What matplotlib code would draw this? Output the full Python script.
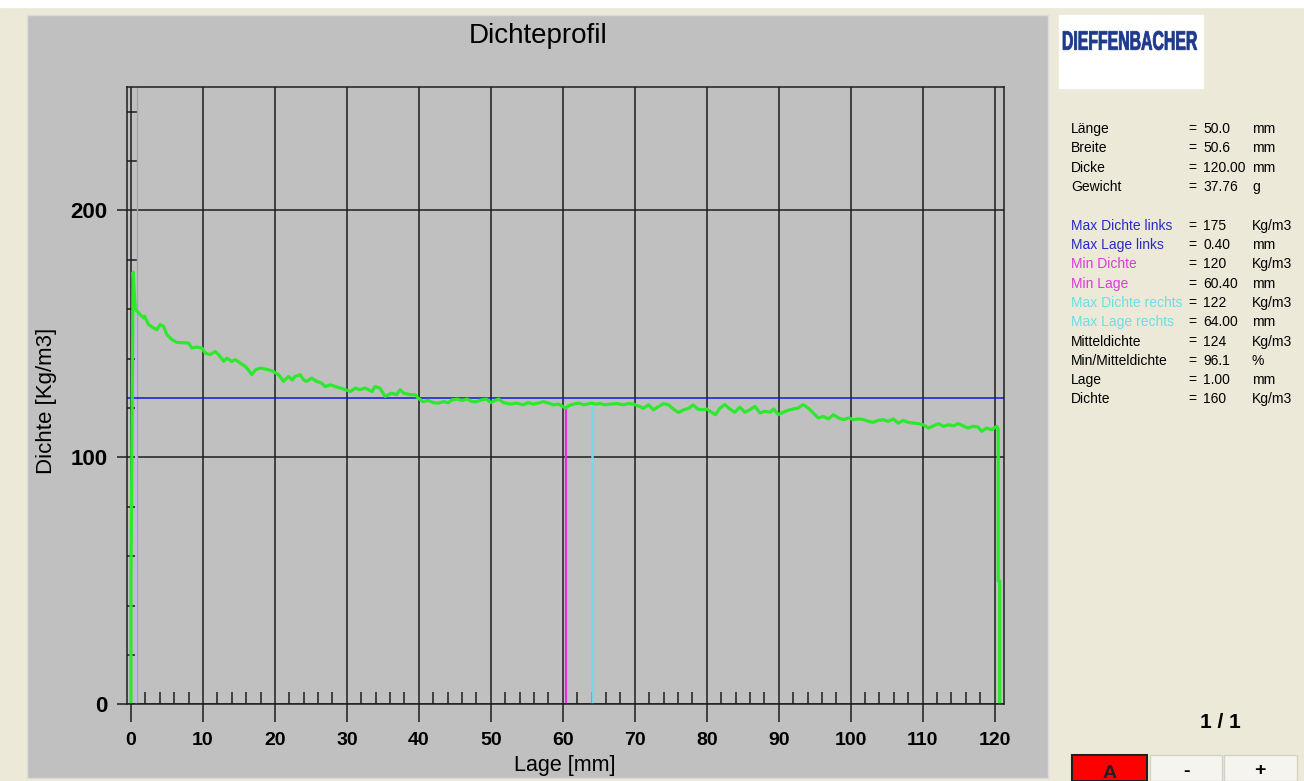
import numpy as np
import matplotlib
matplotlib.use('Agg')
import matplotlib.pyplot as plt
from matplotlib.ticker import MultipleLocator, FixedLocator
from matplotlib.patches import Rectangle, PathPatch
from matplotlib.textpath import TextPath
from matplotlib.font_manager import FontProperties
from matplotlib.transforms import Affine2D

plt.rcParams['font.family'] = ['Liberation Sans', 'DejaVu Sans']

# density profile (Lage in mm, Dichte in kg/m3)
lage = [0.0, 0.0, 0.3, 0.6, 1.06, 1.75, 1.9, 2.45, 3.14, 3.6, 4.07, 4.53, 5.0, 5.69,
        6.38, 8.0, 8.47, 9.16, 9.86, 10.32, 11.0, 11.7, 12.17, 12.9, 13.3, 14.0,
        14.5, 15.2, 15.9, 16.3, 16.8, 17.3, 18.0, 19.1, 19.8, 20.5, 21.2, 21.9,
        22.4, 22.8, 23.5, 24.0, 24.4, 25.1, 25.8, 26.5, 26.98, 27.7, 28.4, 29.1,
        29.8, 30.5, 31.2, 31.8, 32.5, 33.5, 33.9, 34.6, 35.3, 35.8, 36.2, 36.9,
        37.4, 37.9, 38.8, 39.5, 39.9,
        40.6, 41.3, 42.0, 42.7, 43.4, 44.1, 44.6, 45.3, 46.0, 46.7, 47.4, 48.0,
        48.7, 49.4, 50.0, 50.6, 51.1, 51.75, 52.7, 53.6, 54.5, 55.2, 55.9, 56.6,
        57.3, 58.0, 58.7, 59.4, 60.4, 60.8, 61.5, 62.2, 62.9, 64.0, 64.5, 65.2,
        65.9, 66.6, 67.5, 68.4, 69.1, 69.8, 70.7, 71.2, 71.9, 72.6, 73.3, 74.0,
        74.7, 75.4, 76.1, 76.8, 77.5, 78.1, 78.8, 79.5,
        80.0, 81.2, 81.85, 82.5, 83.2, 83.9, 84.6, 85.3, 86.0, 86.7, 87.4, 88.1,
        88.8, 89.3, 89.95, 90.6, 91.3, 92.0, 92.7, 93.4, 94.1, 94.8, 95.5, 96.2,
        96.9, 97.6, 98.3, 99.0, 99.7, 100.4, 101.1, 101.8, 102.5, 103.1, 103.8,
        104.5, 105.2, 105.9, 106.6, 107.3, 108.0, 108.7, 109.4, 110.1, 110.8,
        111.5, 112.2, 112.9, 113.6, 114.3, 114.95, 115.6, 116.3, 117.0, 117.7,
        118.2, 118.9, 119.6, 120.3, 120.5, 120.5, 120.7, 120.7]
dichte = [0, 50, 175, 160, 158.5, 156.5, 157.2, 153.8, 152.4, 151.7, 153.8, 153.1,
          149.7, 147.7, 146.6, 146.3, 144.3, 144.7, 144.3, 142.3, 141.6, 142.9,
          141.6, 138.9, 140.2, 138.9, 139.6, 138.2, 136.8, 135.5, 133.5, 135.5,
          136.2, 135.5, 134.8, 133.5, 130.8, 132.8, 131.4, 132.8, 133.5, 131.4,
          130.8, 132.1, 130.8, 130.1, 128.7, 129.4, 128.7, 128.1, 127.4, 126.7,
          128.1, 127.4, 128.1, 126.7, 128.7, 128.1, 124.7, 125.4, 126.0, 125.4,
          127.4, 126.0, 125.4, 125.4, 124.0,
          122.6, 123.1, 122.2, 122.0, 122.6, 122.2, 123.3, 123.6, 123.1, 123.6,
          122.6, 122.6, 123.3, 123.6, 122.2, 123.1, 123.6, 122.2, 121.6, 122.0,
          121.3, 122.2, 121.6, 122.0, 122.6, 122.0, 121.3, 121.6, 120.0, 120.9,
          121.6, 122.0, 121.3, 122.0, 121.6, 121.8, 121.3, 121.6, 121.8, 121.3,
          121.8, 121.6, 120.6, 119.9, 121.3, 119.3, 120.6, 121.8, 121.3, 119.5,
          118.2, 119.3, 119.9, 121.3, 119.5, 119.3,
          119.6, 117.3, 120.0, 121.4, 119.6, 118.3, 120.4, 118.3, 119.3, 120.7,
          118.0, 118.7, 118.3, 119.6, 117.3, 118.3, 119.1, 119.6, 120.0, 121.4,
          120.0, 118.0, 116.0, 116.6, 115.6, 117.3, 116.0, 115.3, 116.0, 115.3,
          115.6, 115.3, 114.6, 114.2, 115.0, 115.3, 114.6, 115.6, 113.9, 115.0,
          114.2, 113.9, 113.7, 113.2, 111.9, 112.8, 113.7, 112.6, 113.2, 112.8,
          113.7, 112.8, 111.9, 112.6, 112.3, 110.6, 111.9, 111.2, 112.6, 111.2,
          50, 50, 0]

mitteldichte = 124
min_lage, min_dichte = 60.4, 120
max_re_lage, max_re_dichte = 64.0, 122
cursor_lage, cursor_dichte = 0.7, 160

info_rows = [
    ('Länge', '50.0', 'mm', 'black'),
    ('Breite', '50.6', 'mm', 'black'),
    ('Dicke', '120.00', 'mm', 'black'),
    ('Gewicht', '37.76', 'g', 'black'),
    None,
    ('Max Dichte links', '175', 'Kg/m3', '#2a2ac0'),
    ('Max Lage links', '0.40', 'mm', '#2a2ac0'),
    ('Min Dichte', '120', 'Kg/m3', '#dc3adc'),
    ('Min Lage', '60.40', 'mm', '#dc3adc'),
    ('Max Dichte rechts', '122', 'Kg/m3', '#6edde6'),
    ('Max Lage rechts', '64.00', 'mm', '#6edde6'),
    ('Mitteldichte', '124', 'Kg/m3', 'black'),
    ('Min/Mitteldichte', '96.1', '%', 'black'),
    ('Lage', '1.00', 'mm', 'black'),
    ('Dichte', '160', 'Kg/m3', 'black'),
]

W, H = 1304, 781
fig = plt.figure(figsize=(W / 100, H / 100), dpi=100, facecolor='#ECE9D8')


def fx(px):
    return px / W


def fy(py):
    return 1 - py / H


# background panels
fig.add_artist(Rectangle((0, fy(7)), 1, 7 / H, transform=fig.transFigure,
                         color='white', zorder=-2))
fig.add_artist(Rectangle((fx(27), fy(778)), 1021 / W, 763 / H, transform=fig.transFigure,
                         facecolor='#C0C0C0', edgecolor='#dcdcdc', lw=1, zorder=-1))

ax = fig.add_axes([fx(127), fy(704.4), (1004 - 127) / W, (704.4 - 87) / H])
ax.set_facecolor('#C0C0C0')
ax.set_xlim(-0.55, 121.3)
ax.set_ylim(0, 250)

ax.xaxis.set_major_locator(MultipleLocator(10))
ax.xaxis.set_minor_locator(MultipleLocator(2))
ax.yaxis.set_major_locator(FixedLocator([0, 100, 200]))
ax.yaxis.set_minor_locator(MultipleLocator(20))
ax.grid(True, which='major', color='#1e1e1e', lw=1.1)
ax.set_axisbelow(True)
for s in ax.spines.values():
    s.set_color('#1e1e1e')
    s.set_linewidth(1.1)

ax.tick_params(axis='x', which='major', direction='out', length=13, width=1.1,
               color='#1e1e1e', pad=7, labelsize=14)
ax.tick_params(axis='x', which='minor', direction='in', length=8.5, width=1.1,
               color='#1e1e1e')
ax.tick_params(axis='y', which='major', direction='out', length=7, width=1.1,
               color='#1e1e1e', pad=7, labelsize=16)
ax.tick_params(axis='y', which='minor', direction='in', length=7, width=1.1,
               color='#1e1e1e')
plt.setp(ax.get_xticklabels(), fontweight='bold')
plt.setp(ax.get_yticklabels(), fontweight='bold')

# cursor lines
ax.axvline(0.9, color='#a4a4a4', lw=1)
ax.plot([cursor_lage, cursor_lage], [0, cursor_dichte], color='#c4b4f4', lw=1.5)

ax.axhline(mitteldichte, color='#1414e0', lw=1.1)
ax.plot([min_lage, min_lage], [0, min_dichte], color='#e030e0', lw=1.6)
ax.plot([max_re_lage, max_re_lage], [0, max_re_dichte], color='#70dce4', lw=1.8)
ax.plot(lage, dichte, color='#2ee82e', lw=2.3, solid_joinstyle='round')

# titles and labels
fig.text(fx(538), fy(36), 'Dichteprofil', ha='center', va='center', fontsize=20)
fig.text(fx(47), fy(401), 'Dichte [Kg/m3]', ha='center', va='center',
         rotation=90, fontsize=16)
fig.text(fx(565), fy(765), 'Lage [mm]', ha='center', va='center', fontsize=15.5)

# logo
fig.add_artist(Rectangle((fx(1059), fy(88)), 144 / W, 73 / H, transform=fig.transFigure,
                         color='white', zorder=1))
tp = TextPath((0, 0), 'DIEFFENBACHER', size=1,
              prop=FontProperties(family='Liberation Sans', weight='bold'))
bb = tp.get_extents()
tr = (Affine2D().translate(-bb.x0, -bb.y0)
      .scale(134 / W / bb.width, 19 / H / bb.height)
      .translate(fx(1063), fy(50)) + fig.transFigure)
fig.add_artist(PathPatch(tp, transform=tr, facecolor='#1f3a8c', edgecolor='#1f3a8c',
                         lw=0.6, zorder=2))

# info block
y = 129
for row in info_rows:
    if row is None:
        y += 19.5
        continue
    name, val, unit, col = row
    fig.text(fx(1071), fy(y), name, color=col, fontsize=10, va='center')
    fig.text(fx(1188), fy(y), '=', fontsize=10, va='center')
    fig.text(fx(1203), fy(y), val, fontsize=10, va='center')
    fig.text(fx(1252), fy(y), unit, fontsize=10, va='center')
    y += 19.3

fig.text(fx(1220), fy(722), '1 / 1', ha='center', va='center', fontsize=15,
         fontweight='bold')

# buttons
fig.add_artist(Rectangle((fx(1072), 0), 75 / W, fy(755), transform=fig.transFigure,
                         facecolor='#ff0000', edgecolor='#202020', lw=1.5, zorder=1))
fig.add_artist(Rectangle((fx(1150), 0), 72 / W, fy(755), transform=fig.transFigure,
                         facecolor='#f5f4ef', edgecolor='#d4d2c6', lw=1, zorder=1))
fig.add_artist(Rectangle((fx(1224), 0), 73 / W, fy(755), transform=fig.transFigure,
                         facecolor='#f5f4ef', edgecolor='#d4d2c6', lw=1, zorder=1))
fig.text(fx(1110), fy(773), 'A', ha='center', va='center', fontsize=14,
         fontweight='bold', color='#202020')
fig.text(fx(1186), fy(772), '-', ha='center', va='center', fontsize=14,
         fontweight='bold')
fig.text(fx(1260), fy(771), '+', ha='center', va='center', fontsize=14,
         fontweight='bold')

fig.savefig('out.png', dpi=100, facecolor=fig.get_facecolor())
